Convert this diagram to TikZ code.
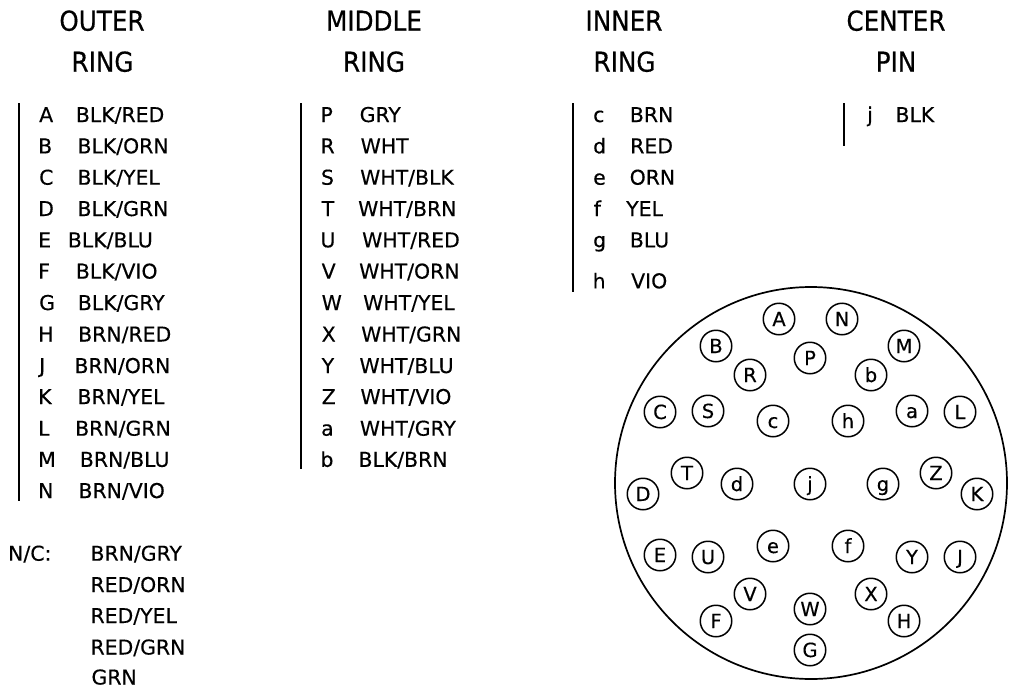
\documentclass[tikz,border=0pt]{standalone}
\usepackage{fontspec}
\setmainfont[FakeBold=0.35]{DejaVu Sans}
\newfontfamily\headfont[FakeStretch=0.9,FakeBold=0.5]{DejaVu Sans}
\tikzset{
  head/.style={anchor=base,inner sep=0pt,font=\headfont\fontsize{27.4}{30}\selectfont},
  item/.style={anchor=base west,inner sep=0pt,font=\fontsize{20.4}{24}\selectfont},
  pin/.style={circle,draw,line width=1.5pt,minimum size=31.5pt,inner sep=0pt,text height=14pt,text depth=0pt,font=\fontsize{19.5}{22}\selectfont},
  rule/.style={line width=2pt},
  shell/.style={line width=1.7pt}
}
\begin{document}
\begin{tikzpicture}[x=1pt,y=-1pt]
\fill[white] (0,0) rectangle (1030,685);
\useasboundingbox (0,0) rectangle (1030,685);
% headings
\foreach \nm/\tx/\x/\y in {h1/OUTER/102/30.7,h2/RING/102.5/71.7,h3/MIDDLE/374/30.7,h4/RING/374/71.7,h5/INNER/624/30.7,h6/RING/624.5/71.7,h7/CENTER/896/30.7,h8/PIN/896/71.7}
  \node[head] (\nm) at (\x,\y) {\tx};
% vertical rules
\foreach \nm/\x/\ya/\yb in {ro/18.7/103/500.7,rm/300.7/103/469.3,ri/572.7/103/292,rc/843.7/103/145.7}{
  \coordinate (\nm a) at (\x,\ya);
  \coordinate (\nm b) at (\x,\yb);
  \draw[rule] (\nm a) -- (\nm b);
}
% outer ring list
\foreach \k/\kx/\v/\vx/\y in {
 A/39/BLK\slash RED/75.7/122,
 B/38/BLK\slash ORN/77.3/153.3,
 C/39/BLK\slash YEL/77.3/184.7,
 D/38/BLK\slash GRN/77.3/216,
 E/38/BLK\slash BLU/67.7/247.3,
 F/38/BLK\slash VIO/75.7/278.6,
 G/39/BLK\slash GRY/77.7/310,
 H/38/BRN\slash RED/78/341.5,
 J/39/BRN\slash ORN/74.3/373,
 K/38/BRN\slash YEL/77.3/404,
 L/38/BRN\slash GRN/75/435.7,
 M/38/BRN\slash BLU/79.7/466.8,
 N/38/BRN\slash VIO/78.3/498}{
  \node[item] (k\k) at (\kx,\y) {\k};
  \node[item] (v\k) at (\vx,\y) {\v};
}
% middle ring list
\foreach \k/\kx/\v/\vx/\y in {
 P/320.3/GRY/359.5/122,
 R/320.3/WHT/360.5/153.3,
 S/320.8/WHT\slash BLK/360/184.7,
 T/321.5/WHT\slash BRN/358/216,
 U/320.3/WHT\slash RED/362/247.3,
 V/321.5/WHT\slash ORN/359/278.6,
 W/321.5/WHT\slash YEL/363/310,
 X/321.5/WHT\slash GRN/361/341.5,
 Y/321.5/WHT\slash BLU/359.3/373,
 Z/321.5/WHT\slash VIO/360.3/404,
 a/321/WHT\slash GRY/359.7/435.7,
 b/320.3/BLK\slash BRN/358.3/466.8}{
  \node[item] (k\k) at (\kx,\y) {\k};
  \node[item] (v\k) at (\vx,\y) {\v};
}
% inner ring list
\foreach \k/\kx/\v/\vx/\y in {
 c/593/BRN/629.7/122,
 d/593/RED/630/153.3,
 e/593/ORN/629.5/184.7,
 f/593.5/YEL/626/216,
 g/593/BLU/629.7/247.3,
 h/592.5/VIO/631/288.3}{
  \node[item] (k\k) at (\kx,\y) {\k};
  \node[item] (v\k) at (\vx,\y) {\v};
}
% centre pin list
\node[item] (kj) at (867,122) {j};
\node[item] (vj) at (895.3,122) {BLK};
% not connected
\node[item] (nc) at (8,560.7) {N\slash C:};
\foreach \nm/\v/\vx/\y in {n1/BRN\slash GRY/90.3/560.7,n2/RED\slash ORN/90.3/592,n3/RED\slash YEL/90.3/623,n4/RED\slash GRN/90.3/654.5,n5/GRN/91.3/684.5}
  \node[item] (\nm) at (\vx,\y) {\v};
% connector face
\coordinate (shellc) at (811,483);
\draw[shell] (shellc) circle[radius=196];
\foreach \n/\x/\y in {
 A/779/319,N/842/319,B/716/346,M/904/346,R/750/375,P/810/358,b/871/375,
 C/660/412,S/708/411,c/773/421,h/848/421,a/912/411,L/960/412,
 D/643/494,T/687/473,d/737/484,j/810/484,g/883/484,Z/936/473,K/977/494,
 E/660/555,U/708/557,e/773/546,f/848/546,Y/912/557,J/960/557,
 V/750/594,X/871/594,F/716/621,H/904/621,W/810/609,G/810/650}
  \node[pin] (p\n) at (\x,\y) {\n};
\end{tikzpicture}
\end{document}
